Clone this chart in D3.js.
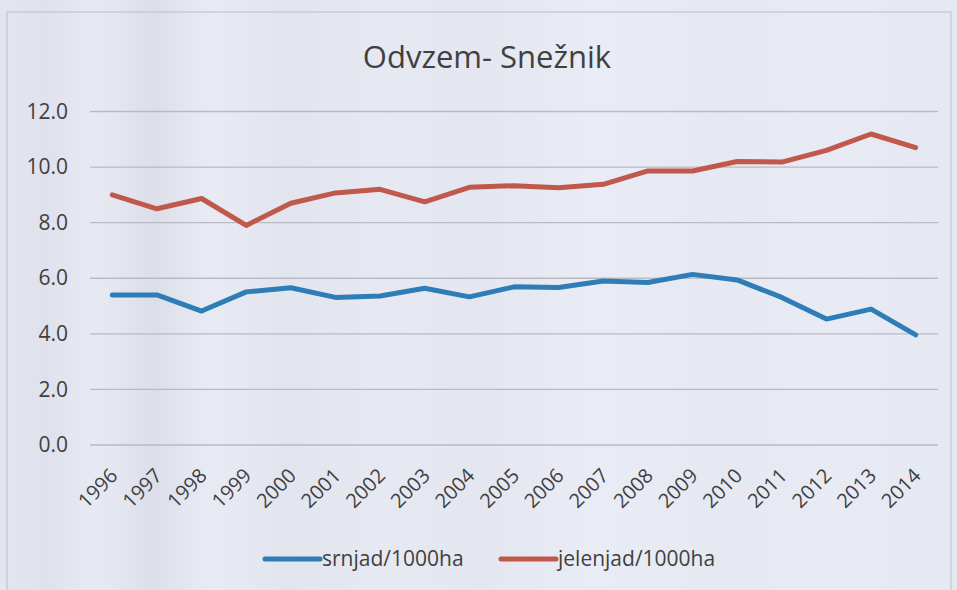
<!DOCTYPE html>
<html>
<head>
<meta charset="utf-8">
<script src="https://cdn.jsdelivr.net/npm/d3@7"></script>
<style>
  html, body { margin: 0; padding: 0; background: #e5e7f1; }
  svg { display: block; }
  text { font-family: "Open Sans", "Noto Sans", sans-serif; fill: #404040; }
</style>
</head>
<body>
<svg class="line-chart"></svg>
<script>
const width = 957;
const height = 590;

// Data
const years = ['1996','1997','1998','1999','2000','2001','2002','2003','2004','2005',
               '2006','2007','2008','2009','2010','2011','2012','2013','2014'];
const srnjad = [5.4, 5.4, 4.82, 5.51, 5.66, 5.31, 5.36, 5.64, 5.33, 5.69,
                5.67, 5.9, 5.85, 6.14, 5.94, 5.31, 4.53, 4.89, 3.96];
const jelenjad = [9.0, 8.5, 8.87, 7.9, 8.7, 9.07, 9.2, 8.75, 9.27, 9.33,
                  9.26, 9.38, 9.86, 9.86, 10.2, 10.18, 10.6, 11.19, 10.7];
const yTicks = [0, 2, 4, 6, 8, 10, 12];
const seriesNames = ['srnjad/1000ha', 'jelenjad/1000ha'];
const colors = ['#2e7db6', '#c0584b'];

const svg = d3.select('.line-chart')
    .attr('width', width)
    .attr('height', height);

// Background with soft vertical stripes (photographed page)
const defs = svg.append('defs');
const grad = defs.append('linearGradient').attr('id', 'bg').attr('x1', 0).attr('x2', 1).attr('y1', 0).attr('y2', 0);
const stops = [[0, '#e3e5ef'], [0.05, '#dfe1ec'], [0.1, '#e8eaf3'], [0.16, '#dcdee9'], [0.22, '#e9ebf4'],
               [0.3, '#e2e4ee'], [0.4, '#e7e9f2'], [0.5, '#e4e6f0'], [0.62, '#eaecf5'], [0.75, '#e6e8f2'],
               [0.88, '#e9ebf4'], [1, '#e6e8f1']];
stops.forEach(s => grad.append('stop').attr('offset', s[0]).attr('stop-color', s[1]));

svg.append('rect')
    .attr('width', width)
    .attr('height', height)
    .attr('fill', 'url(#bg)');

// chart frame
svg.append('rect')
    .attr('x', 7)
    .attr('y', 12)
    .attr('width', 944)
    .attr('height', 600)
    .attr('fill', 'none')
    .attr('stroke', '#c4c5cc')
    .attr('stroke-width', 1.2);

// Title
svg.append('text')
    .attr('x', 487)
    .attr('y', 68)
    .attr('text-anchor', 'middle')
    .attr('font-size', 31)
    .text('Odvzem- Snežnik');

// Scales
const xScale = d3.scalePoint()
    .domain(years)
    .range([90, 938])
    .padding(0.5);

const yScale = d3.scaleLinear()
    .domain([0, 12])
    .range([445, 111.5]);

// Gridlines
svg.append('g')
    .selectAll('line')
    .data(yTicks)
    .enter().append('line')
    .attr('x1', 90)
    .attr('x2', 938)
    .attr('y1', d => yScale(d))
    .attr('y2', d => yScale(d))
    .attr('stroke', '#b9bac2')
    .attr('stroke-width', 1.4);

// Y axis
const yAxis = d3.axisLeft(yScale)
    .tickValues(yTicks)
    .tickFormat(d3.format('.1f'))
    .tickSize(0)
    .tickPadding(0);

svg.append('g')
    .attr('id', 'y-axis')
    .attr('transform', 'translate(68,0)')
    .call(yAxis)
    .call(g => g.select('.domain').remove())
    .call(g => g.selectAll('text')
        .attr('font-size', 21)
        .attr('fill', '#404040')
        .attr('font-family', '"Open Sans", sans-serif'));

// X axis
const xAxis = d3.axisBottom(xScale).tickSize(0).tickPadding(0);

svg.append('g')
    .attr('id', 'x-axis')
    .attr('transform', 'translate(0,445)')
    .call(xAxis)
    .call(g => g.select('.domain').remove())
    .call(g => g.selectAll('text')
        .attr('font-size', 20)
        .attr('fill', '#404040')
        .attr('font-family', '"Open Sans", sans-serif')
        .attr('text-anchor', 'end')
        .attr('dy', 0)
        .attr('y', 0)
        .attr('transform', 'translate(6,32) rotate(-45)'));

// Lines
const series = [srnjad, jelenjad];
const line = d3.line()
    .x((d, i) => xScale(years[i]))
    .y(d => yScale(d));

svg.append('g')
    .selectAll('path')
    .data(series)
    .enter().append('path')
    .attr('d', d => line(d))
    .attr('fill', 'none')
    .attr('stroke', (d, i) => colors[i])
    .attr('stroke-width', 5)
    .attr('stroke-linejoin', 'round')
    .attr('stroke-linecap', 'round');

// Legend
const legendX = [265, 501];
const legend = svg.append('g')
    .selectAll('g')
    .data(seriesNames)
    .enter().append('g')
    .attr('transform', (d, i) => `translate(${legendX[i]},559)`);

legend.append('line')
    .attr('x1', 0)
    .attr('x2', 55)
    .attr('stroke', (d, i) => colors[i])
    .attr('stroke-width', 5)
    .attr('stroke-linecap', 'round');

legend.append('text')
    .attr('x', 57)
    .attr('y', 7)
    .attr('font-size', 21)
    .text(d => d);
</script>
</body>
</html>
